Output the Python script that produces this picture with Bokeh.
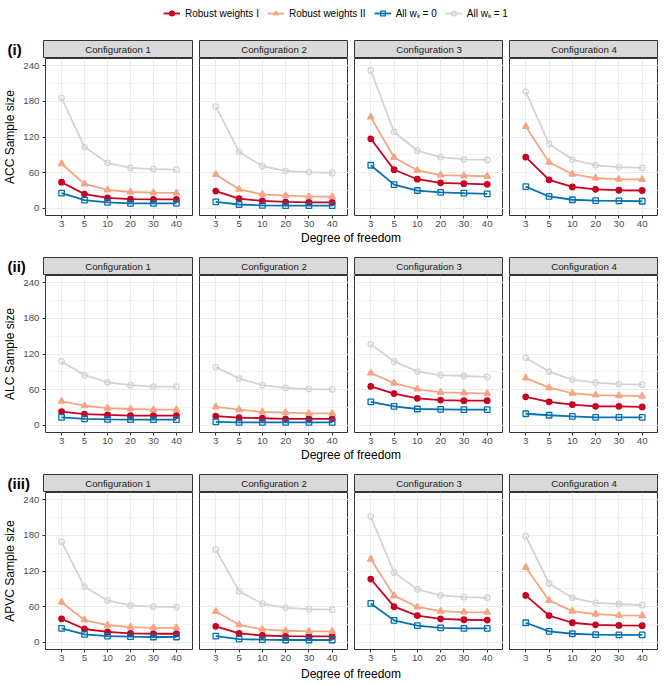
from bokeh.plotting import figure
from bokeh.models import (Range1d, FactorRange, FixedTicker, Label, Legend,
                          LegendItem, ColumnDataSource)
from bokeh.layouts import column, row
from bokeh.embed import file_html
from bokeh.resources import INLINE

# ---------------- data ----------------
dfs = ["3", "5", "10", "20", "30", "40"]
configs = ["Configuration 1", "Configuration 2", "Configuration 3", "Configuration 4"]
row_tags = ["(i)", "(ii)", "(iii)"]
y_titles = ["ACC Sample size", "ALC Sample size", "APVC Sample size"]
series_names = ["Robust weights I", "Robust weights II", "All w\u2096 = 0", "All w\u2096 = 1"]
y_ticks = [0, 60, 120, 180, 240]
y_minor = [30, 90, 150, 210]

# ACC (one list per configuration)
acc_rw1 = [[44, 24, 17.5, 15.5, 15, 15], [29, 16.5, 12.5, 11, 10, 10],
           [117, 65, 49, 43, 41.5, 40.5], [86, 48, 36, 32, 30.5, 30]]
acc_rw2 = [[75, 41, 31, 27.5, 26.5, 26], [57, 32, 23.5, 21.5, 20, 19.5],
           [153.5, 85.5, 64, 56, 55, 54], [137.5, 77.5, 57.5, 51, 49, 48.5]]
acc_w0 = [[25.5, 14, 10, 8.5, 8.5, 8.5], [11, 6.5, 5, 4.5, 4.5, 4.5],
          [72.5, 40, 30, 27, 25.5, 24.5], [36.5, 20, 14.5, 13, 12.5, 12]]
acc_w1 = [[185.5, 103, 76.5, 68, 66, 65], [171, 95, 71, 63, 61, 59.5],
          [232, 128.5, 97, 86, 82.5, 81.5], [196, 108.5, 82, 72.5, 69.5, 68]]

# ALC
alc_rw1 = [[23, 19, 17.5, 16.5, 16.5, 16.5], [15.5, 13, 12, 11, 11, 11],
           [65.5, 53.5, 45.5, 42.5, 41.5, 41.5], [48, 39.5, 35, 32, 32, 31]]
alc_rw2 = [[40.5, 33, 29, 27.5, 26.5, 26.5], [31, 26.5, 22.5, 21.5, 20, 20],
           [88, 71, 61, 55.5, 54.5, 53.5], [79.5, 63.5, 54, 51, 50, 49]]
alc_w0 = [[13.5, 11, 10, 9.5, 9.5, 9.5], [6, 5, 5, 5, 5, 5],
          [39.5, 32, 27.5, 27, 26.5, 26.5], [19.5, 17, 15, 13.5, 13.5, 13.5]]
alc_w1 = [[107.5, 84.5, 72.5, 67.5, 65, 65], [98, 79, 67.5, 63, 61, 60.5],
          [136.5, 107.5, 90.5, 84.5, 83, 81.5], [113.5, 90.5, 77, 72, 69.5, 68.5]]

# APVC
apvc_rw1 = [[39.5, 22.5, 17.5, 15, 14.5, 14.5], [27, 15, 11.5, 10.5, 10, 10],
            [106.5, 60, 45, 39.5, 38, 37.5], [79, 45, 33, 29.5, 28.5, 28]]
apvc_rw2 = [[67.5, 37.5, 29, 25.5, 24.5, 24.5], [52, 29.5, 22, 19.5, 18.5, 18.5],
            [140, 78.5, 59.5, 52.5, 51, 50.5], [126, 70.5, 52.5, 47.5, 45.5, 45]]
apvc_w0 = [[23.5, 13.5, 10.5, 9.5, 9, 9], [10.5, 5.5, 4.5, 4, 4, 4],
           [65.5, 37, 28, 24.5, 23.5, 23.5], [33, 18.5, 14.5, 13, 12.5, 12.5]]
apvc_w1 = [[169, 93.5, 70.5, 62, 60, 59.5], [156, 86, 65, 58, 56, 55],
           [211.5, 117.5, 89, 79, 76, 75], [178.5, 99, 75, 66.5, 64.5, 62.5]]

measures = [
    [acc_rw1, acc_rw2, acc_w0, acc_w1],
    [alc_rw1, alc_rw2, alc_w0, alc_w1],
    [apvc_rw1, apvc_rw2, apvc_w0, apvc_w1],
]

# ---------------- style ----------------
FONT = "Liberation Sans"
colors = ["#ca0020", "#f4a582", "#0571b0", "#d3d3d3"]
markers = ["circle", "triangle", "square", "circle"]
msizes = [5.5, 6.5, 5.5, 5.5]
mfill = [True, True, False, False]

L = 43          # left border for first column (y axis area)
FW = 149        # panel frame width
FH = 157        # panel frame height
SH = 19         # strip height
BB = 16         # bottom axis area
GAP = 6
TOP = 39        # legend band height


def common(p):
    p.min_border_top = 0
    p.min_border_bottom = 0
    p.min_border_left = 0
    p.min_border_right = 0
    p.border_fill_color = "white"
    p.frame_align = False


def style_scatter_kwargs(k):
    kw = dict(marker=markers[k], size=msizes[k], line_color=colors[k], line_width=1.3)
    kw["fill_color"] = colors[k] if mfill[k] else None
    return kw


def make_tag(tag):
    t = figure(x_range=Range1d(0, 1), y_range=Range1d(0, 1),
               width=L, height=SH,
               x_axis_location=None, y_axis_location=None,
               toolbar_location=None, output_backend="svg")
    common(t)
    t.grid.visible = False
    t.outline_line_color = None
    t.background_fill_color = "white"
    t.add_layout(Label(x=7 / L, y=0.45, text=tag, text_align="left",
                       text_baseline="middle", text_font_size="15px",
                       text_font=FONT, text_font_style="bold", text_color="black"))
    return t


def make_strip(j, text):
    w = FW + 1 if j == 0 else FW
    s = figure(x_range=Range1d(0, 1), y_range=Range1d(0, 1),
               width=w, height=SH,
               x_axis_location=None, y_axis_location=None,
               toolbar_location=None, output_backend="svg")
    common(s)
    if j == 0:
        s.min_border_right = 1
    s.min_border_top = 1
    s.grid.visible = False
    s.background_fill_color = "#d9d9d9"
    s.outline_line_color = "#333333"
    s.outline_line_width = 1
    s.add_layout(Label(x=0.5, y=0.5, text=text, text_align="center",
                       text_baseline="middle", text_font_size="9.7px",
                       text_font=FONT, text_color="#1a1a1a"))
    return s


def make_panel(i, j):
    w = L + FW + 1 if j == 0 else FW
    p = figure(x_range=FactorRange(factors=dfs, range_padding=0.2,
                                   range_padding_units="absolute"),
               y_range=Range1d(-12, 252),
               width=w, height=FH + BB,
               toolbar_location=None, output_backend="svg")
    common(p)
    if j == 0:
        p.min_border_left = L
        p.min_border_right = 1
    p.min_border_bottom = BB
    p.background_fill_color = "white"
    p.outline_line_color = "#333333"
    p.outline_line_width = 1

    ticker = FixedTicker(ticks=y_ticks, minor_ticks=y_minor)
    p.ygrid.ticker = ticker
    p.ygrid.grid_line_color = "#ebebeb"
    p.ygrid.grid_line_width = 1.1
    p.ygrid.minor_grid_line_color = "#f0f0f0"
    p.ygrid.minor_grid_line_width = 0.8
    p.xgrid.grid_line_color = "#ebebeb"
    p.xgrid.grid_line_width = 1.1

    for ax in p.axis:
        ax.axis_line_color = None
        ax.major_tick_line_color = "#333333"
        ax.major_tick_out = 3
        ax.major_tick_in = 0
        ax.minor_tick_line_color = None
        ax.major_label_text_color = "#4d4d4d"
        ax.major_label_text_font_size = "9.7px"
        ax.major_label_text_font = FONT
        ax.major_label_standoff = 2

    p.yaxis.ticker = ticker
    if j == 0:
        p.yaxis.axis_label = y_titles[i]
        p.yaxis.axis_label_text_font_size = "12px"
        p.yaxis.axis_label_text_font = FONT
        p.yaxis.axis_label_text_font_style = "normal"
        p.yaxis.axis_label_text_color = "black"
        p.yaxis.axis_label_standoff = 3
    else:
        p.yaxis.visible = False

    for k in range(4):
        src = ColumnDataSource(dict(x=dfs, y=measures[i][k][j]))
        p.line("x", "y", source=src, line_color=colors[k], line_width=1.8)
        p.scatter("x", "y", source=src, **style_scatter_kwargs(k))
    return p


def make_dof(h, yfrac):
    d = figure(x_range=Range1d(0, 1), y_range=Range1d(0, 1),
               width=L + 615, height=h,
               x_axis_location=None, y_axis_location=None,
               toolbar_location=None, output_backend="svg")
    common(d)
    d.min_border_left = L
    d.grid.visible = False
    d.outline_line_color = None
    d.add_layout(Label(x=0.5, y=yfrac, text="Degree of freedom", text_align="center",
                       text_baseline="middle", text_font_size="12px",
                       text_font=FONT, text_color="black"))
    return d


# ---------------- legend ----------------
leg = figure(x_range=Range1d(0, 1), y_range=Range1d(0, 1),
             width=L + 615, height=TOP, x_axis_location=None, y_axis_location=None,
             toolbar_location=None, output_backend="svg")
common(leg)
leg.grid.visible = False
leg.outline_line_color = None
items = []
for k in range(4):
    hidden = ColumnDataSource(dict(x=[float("nan")], y=[float("nan")]))
    r1 = leg.line("x", "y", source=hidden, line_color=colors[k], line_width=1.8)
    r2 = leg.scatter("x", "y", source=hidden, **style_scatter_kwargs(k))
    items.append(LegendItem(label=series_names[k], renderers=[r1, r2]))
legend = Legend(items=items, orientation="horizontal", location=(163, TOP - 20),
                glyph_width=17, glyph_height=12, label_height=12,
                label_standoff=5, spacing=8, padding=0, margin=0,
                border_line_color=None, background_fill_alpha=0,
                label_text_font_size="10px", label_text_font=FONT,
                label_text_color="black")
leg.add_layout(legend)

# ---------------- assemble ----------------
blocks = [leg]
for i in range(3):
    cols = []
    for j in range(4):
        strip = make_strip(j, configs[j])
        if j == 0:
            top = row(make_tag(row_tags[i]), strip, spacing=0)
        else:
            top = strip
        panel = make_panel(i, j)
        cols.append(column(top, panel, spacing=0))
    blocks.append(row(*cols, spacing=GAP))
    if i < 2:
        blocks.append(make_dof(25, 1 - 6 / 25))
    else:
        blocks.append(make_dof(15, 1 - 8 / 15))

page = column(*blocks, spacing=0)

open("out.html", "w").write(file_html(page, INLINE))
